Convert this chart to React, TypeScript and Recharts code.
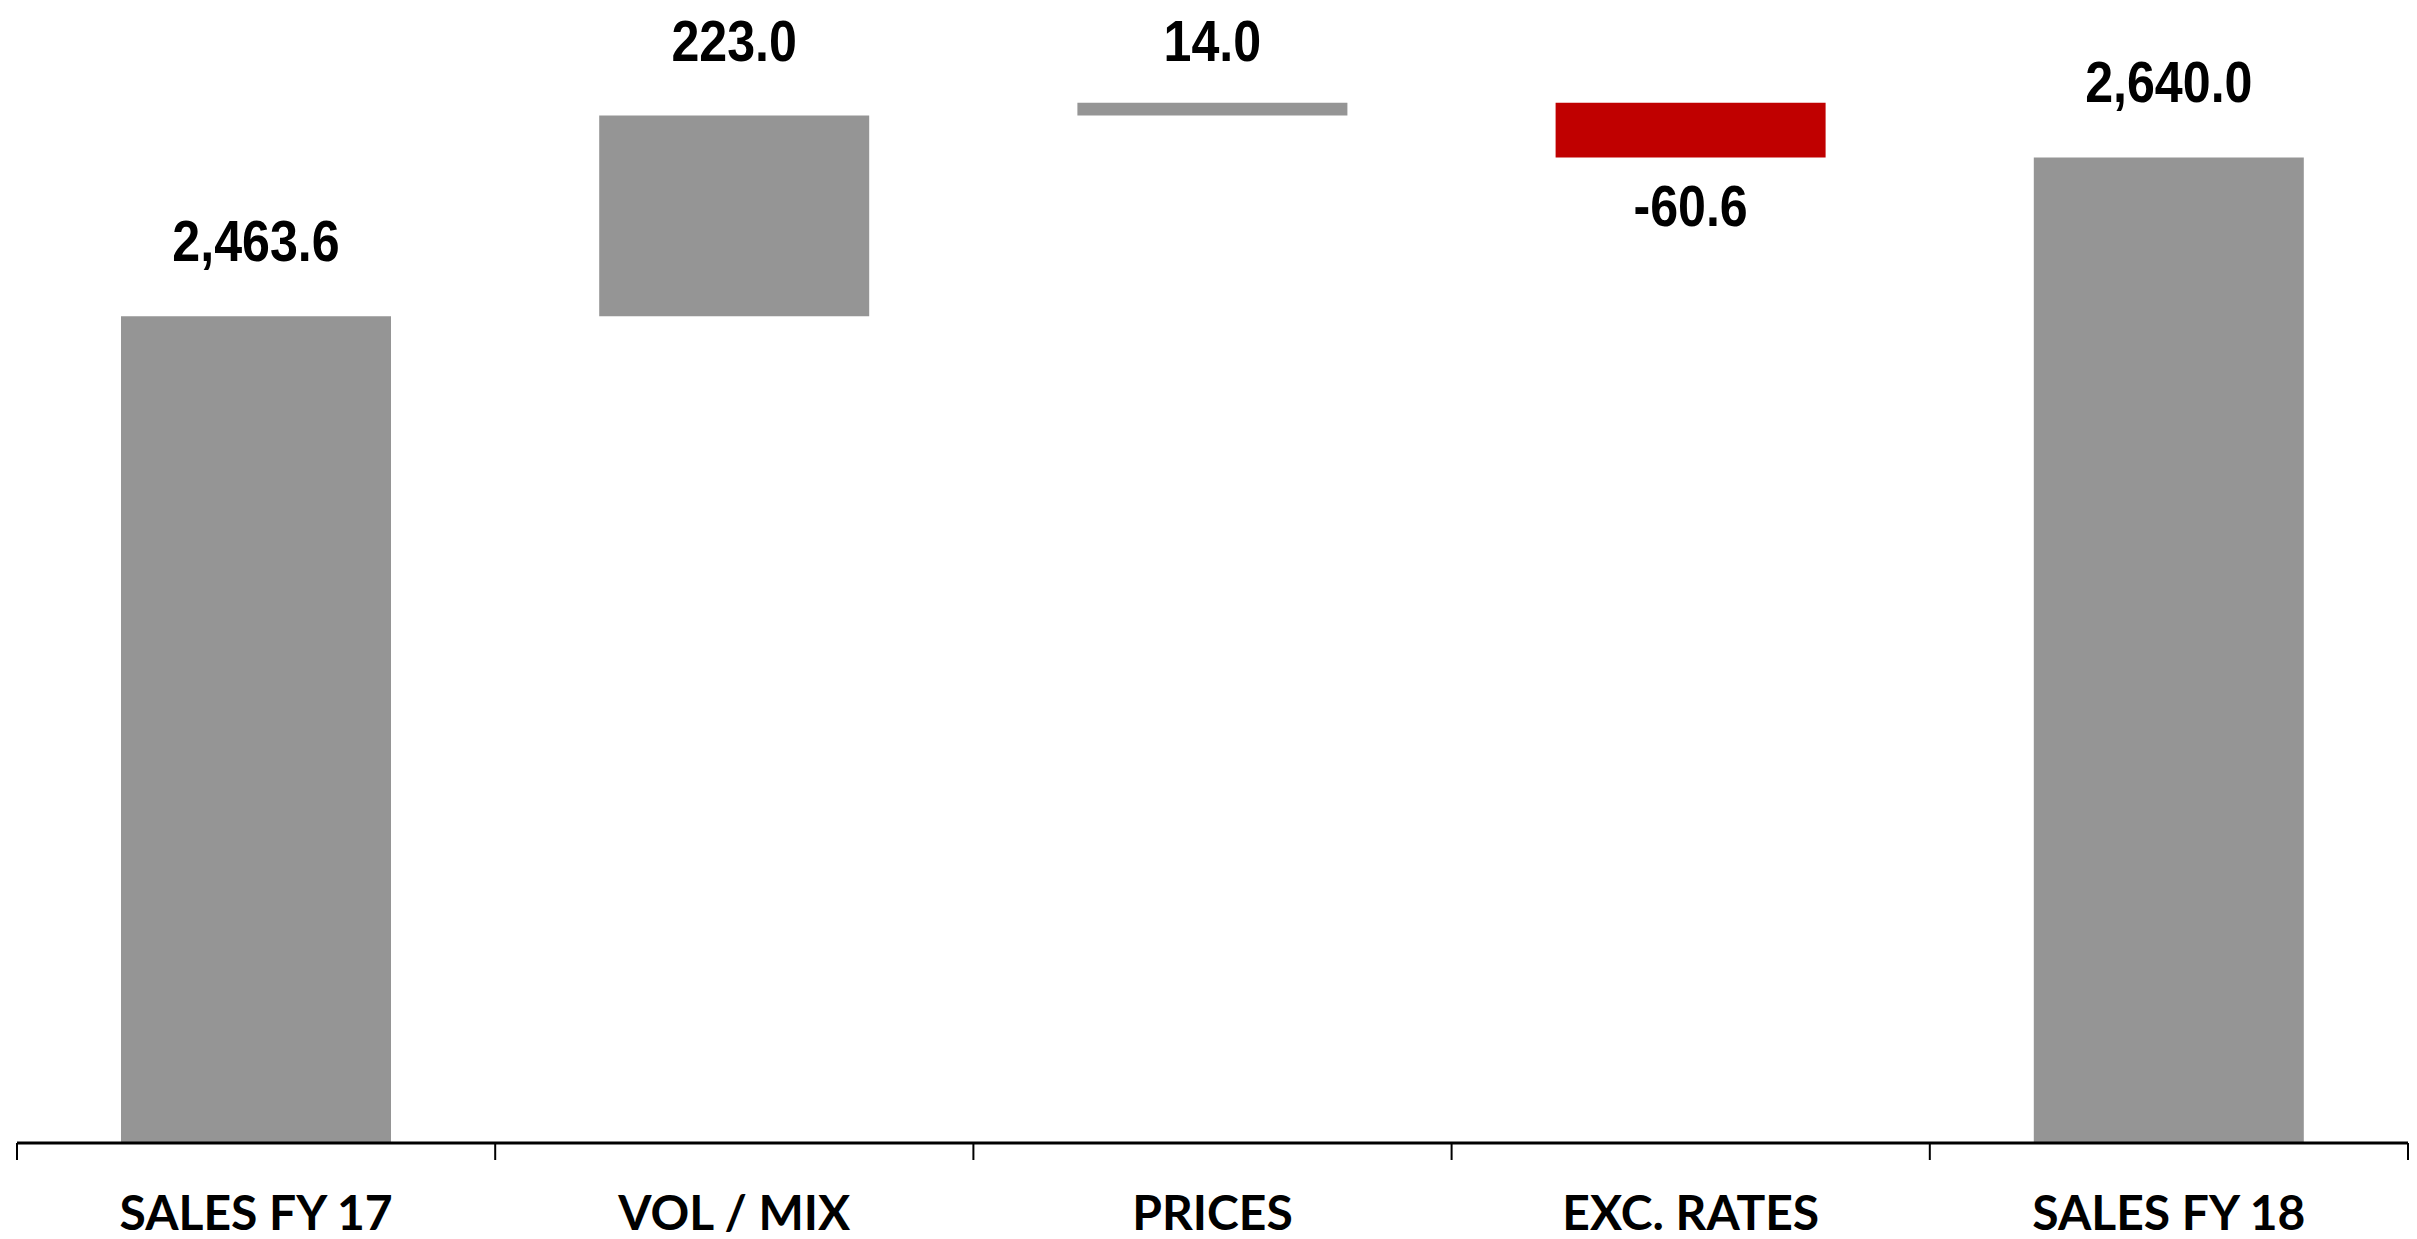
import React from 'react';
import { BarChart, Bar, XAxis, YAxis, Cell, LabelList } from 'recharts';

const categories = ['SALES FY 17', 'VOL / MIX', 'PRICES', 'EXC. RATES', 'SALES FY 18'];
const values = [2463.6, 223.0, 14.0, -60.6, 2640.0];
const isTotal = [true, false, false, false, true];
const valueLabels = ['2,463.6', '223.0', '14.0', '-60.6', '2,640.0'];

const AXIS_MIN = 1545;
const AXIS_MAX = 2806;

const CHART_W = 2417;
const CHART_H = 1239;
const M_LEFT = 17;
const M_RIGHT = 9;
const M_TOP = 8;
const BAND = (CHART_W - M_LEFT - M_RIGHT) / categories.length;

const GRAY = '#959595';
const RED = '#C00000';

let running = 0;
const data = categories.map((name, i) => {
  let range: number | number[];
  if (isTotal[i]) {
    running = values[i];
    range = values[i];
  } else {
    const start = running;
    running += values[i];
    range = [Math.min(start, running), Math.max(start, running)];
  }
  return { name, range, value: values[i] };
});

const LABEL_FONT = "'Liberation Sans', Arial, sans-serif";

const renderLabel = (props: any) => {
  const { x, y, width, height, index } = props;
  const top = Math.min(y, y + height);
  const bottom = Math.max(y, y + height);
  const cx = x + width / 2;
  const v = values[index];
  const ty = v < 0 ? bottom + 69 : Math.max(top - 55, 61);
  return (
    <text
      transform={`translate(${cx},${ty}) scale(0.88,1)`}
      x={0}
      y={0}
      textAnchor="middle"
      fontFamily={LABEL_FONT}
      fontWeight={700}
      fontSize={57}
      fill="#000"
    >
      {valueLabels[index]}
    </text>
  );
};

const Tick = (props: any) => {
  const { x, y, payload, index } = props;
  const half = BAND / 2;
  return (
    <g>
      <line x1={x - half} y1={y} x2={x - half} y2={y + 17} stroke="#000" strokeWidth={2} />
      {index === categories.length - 1 && (
        <line x1={x + half} y1={y} x2={x + half} y2={y + 17} stroke="#000" strokeWidth={2} />
      )}
      <text
        x={x}
        y={y + 87}
        textAnchor="middle"
        fontFamily="Lato, 'Open Sans', sans-serif"
        fontWeight={700}
        fontSize={48}
        fill="#000"
      >
        {payload.value}
      </text>
    </g>
  );
};

export default function App() {
  return (
    <div style={{ position: 'absolute', left: 0, top: 0, width: CHART_W, height: CHART_H, background: '#fff' }}>
      <BarChart
        width={CHART_W}
        height={CHART_H}
        data={data}
        margin={{ top: M_TOP, right: M_RIGHT, bottom: 0, left: M_LEFT }}
      >
        <XAxis
          dataKey="name"
          interval={0}
          tickLine={false}
          tickSize={0}
          tickMargin={0}
          height={96}
          axisLine={{ stroke: '#000', strokeWidth: 3 }}
          tick={(p: any) => <Tick {...p} />}
        />
        <YAxis hide domain={[AXIS_MIN, AXIS_MAX]} allowDataOverflow />
        <Bar dataKey="range" barSize={270} isAnimationActive={false}>
          {data.map((d, i) => (
            <Cell key={i} fill={d.value < 0 ? RED : GRAY} />
          ))}
          <LabelList dataKey="value" content={renderLabel} />
        </Bar>
      </BarChart>
    </div>
  );
}
